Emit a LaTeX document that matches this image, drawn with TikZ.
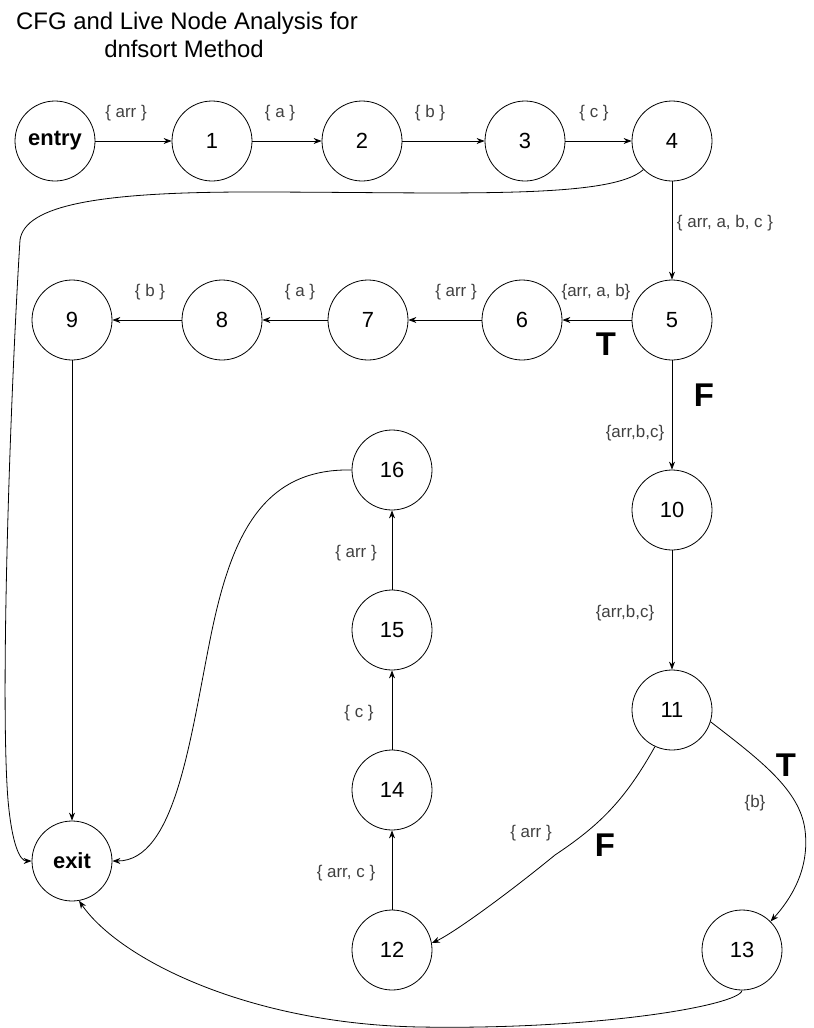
\documentclass[tikz,border=0pt]{standalone}
\usepackage{fontspec}
\setmainfont{Liberation Sans}
\usetikzlibrary{arrows.meta}
\begin{document}
\begin{tikzpicture}[x=1bp,y=-1bp,
  cfgnode/.style={circle,draw,line width=0.8bp,minimum size=80bp,inner sep=0pt,font=\fontsize{22}{24}\selectfont},
  boldnode/.style={cfgnode,font=\fontsize{22}{24}\selectfont\bfseries},
  flow/.style={line width=0.8bp,-{Stealth[length=8bp,width=6bp]}},
  lbl/.style={font=\fontsize{17}{19}\selectfont,text=black!75,inner sep=0pt},
  tf/.style={font=\fontsize{33}{35}\selectfont\bfseries,inner sep=0pt},
  ttl/.style={font=\fontsize{24}{26}\selectfont,inner sep=0pt}]
\useasboundingbox (0,0) rectangle (814,1028);
% title
\node[ttl] (t1) at (187,23) {CFG and Live Node Analysis for};
\node[ttl] (t2) at (184,49) {dnfsort Method};
% nodes
\node[boldnode] (entry) at (55,141) {entry};
\node[cfgnode] (n1) at (212,141) {1};
\node[cfgnode] (n2) at (362,141) {2};
\node[cfgnode] (n3) at (525,141) {3};
\node[cfgnode] (n4) at (672,141) {4};
\node[cfgnode] (n5) at (672,320) {5};
\node[cfgnode] (n6) at (522,320) {6};
\node[cfgnode] (n7) at (368,320) {7};
\node[cfgnode] (n8) at (222,320) {8};
\node[cfgnode] (n9) at (72,320) {9};
\node[cfgnode] (n10) at (672,510) {10};
\node[cfgnode] (n11) at (672,710) {11};
\node[cfgnode] (n12) at (392,950) {12};
\node[cfgnode] (n13) at (742,950) {13};
\node[cfgnode] (n14) at (392,790) {14};
\node[cfgnode] (n15) at (392,630) {15};
\node[cfgnode] (n16) at (392,470) {16};
\node[boldnode] (exit) at (72,861) {exit};
% straight edges
\draw[flow] (entry) -- (n1);
\draw[flow] (n1) -- (n2);
\draw[flow] (n2) -- (n3);
\draw[flow] (n3) -- (n4);
\draw[flow] (n4) -- (n5);
\draw[flow] (n5) -- (n6);
\draw[flow] (n6) -- (n7);
\draw[flow] (n7) -- (n8);
\draw[flow] (n8) -- (n9);
\draw[flow] (n9) -- (exit);
\draw[flow] (n5) -- (n10);
\draw[flow] (n10) -- (n11);
\draw[flow] (n12) -- (n14);
\draw[flow] (n14) -- (n15);
\draw[flow] (n15) -- (n16);
% curved edges
\draw[flow] (n4.225) .. controls (610,200) and (450,192) .. (250,192)
  .. controls (100,192) and (25,205) .. (20,240)
  .. controls (10,400) and (0,700) .. (8,800)
  .. controls (12,845) and (20,861) .. (exit.west);
\draw[flow] (n16.west) .. controls (260,468) and (230,540) .. (210,640)
  .. controls (190,740) and (175,861) .. (exit.east);
\draw[flow] (n13.south) .. controls (740,1005) and (600,1030) .. (420,1027)
  .. controls (250,1024) and (120,960) .. (exit.-80);
\draw[flow] (n11.-17) .. controls (760,760) and (800,790) .. (805,830)
  .. controls (810,870) and (790,900) .. (n13.45);
\draw[flow] (n11.-115) .. controls (625,800) and (600,825) .. (555,855)
  .. controls (500,900) and (450,935) .. (n12.10);
% edge labels
\node[lbl] (l1) at (126,113) {\{ arr \}};
\node[lbl] (l2) at (280,113) {\{ a \}};
\node[lbl] (l3) at (430,113) {\{ b \}};
\node[lbl] (l4) at (594,113) {\{ c \}};
\node[lbl] (l45) at (725,223) {\{ arr, a, b, c \}};
\node[lbl] (l56) at (596,292) {\{arr, a, b\}};
\node[lbl] (l67) at (456,292) {\{ arr \}};
\node[lbl] (l78) at (300,292) {\{ a \}};
\node[lbl] (l89) at (150,292) {\{ b \}};
\node[lbl] (l510) at (635,433) {\{arr,b,c\}};
\node[lbl] (l1011) at (625,613) {\{arr,b,c\}};
\node[lbl] (l1113) at (755,803) {\{b\}};
\node[lbl] (l1112) at (531,833) {\{ arr \}};
\node[lbl] (l1214) at (346,873) {\{ arr, c \}};
\node[lbl] (l1415) at (359,713) {\{ c \}};
\node[lbl] (l1516) at (356,553) {\{ arr \}};
% T/F labels
\node[tf] (t5) at (606,344) {T};
\node[tf] (f5) at (704,395) {F};
\node[tf] (t11) at (786,765) {T};
\node[tf] (f11) at (605,845) {F};
\end{tikzpicture}
\end{document}
